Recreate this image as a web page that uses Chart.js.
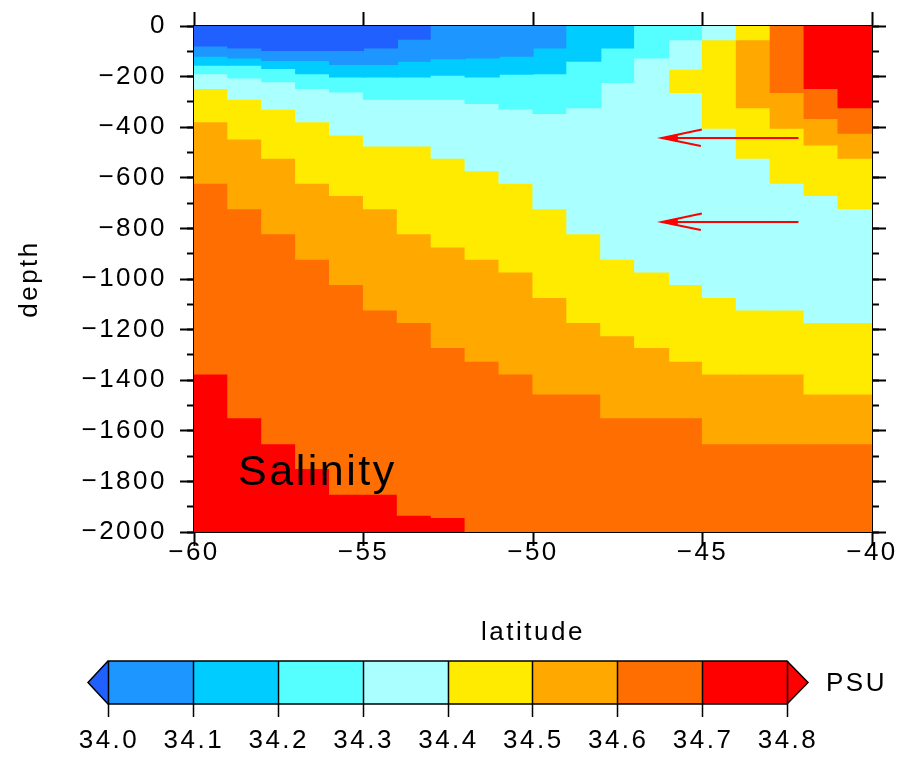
<!DOCTYPE html>
<html>
<head>
<meta charset="utf-8">
<script src="https://cdn.jsdelivr.net/npm/chart.js@4.4.1/dist/chart.umd.min.js"></script>
<style>
html,body{margin:0;padding:0;background:#fff;}
canvas{display:block;}
</style>
</head>
<body>
<canvas id="c" width="916" height="759"></canvas>
<script>
// ---------------- data ----------------
const latitude = [-59.5,-58.5,-57.5,-56.5,-55.5,-54.5,-53.5,-52.5,-51.5,-50.5,
                  -49.5,-48.5,-47.5,-46.5,-45.5,-44.5,-43.5,-42.5,-41.5,-40.5];
const contourLevels = [34.0,34.1,34.2,34.3,34.4,34.5,34.6,34.7,34.8];
const latTicks = [-60,-55,-50,-45,-40];
const depthTicks = [0,-200,-400,-600,-800,-1000,-1200,-1400,-1600,-1800,-2000];

// Salinity profiles, surface downward:
// [bottom of layer (m), salinity (PSU)]
const prof_59_5 = [[79,33.95],[119,34.05],[155,34.15],[188,34.25],[247,34.35],[378,34.45],[621,34.55],[1375,34.65],[2000,34.75]];
const prof_58_5 = [[87,33.95],[126,34.05],[155,34.15],[205,34.25],[289,34.35],[446,34.45],[722,34.55],[1548,34.65],[2000,34.75]];
const prof_57_5 = [[96,33.95],[136,34.05],[168,34.15],[220,34.25],[329,34.35],[522,34.45],[821,34.55],[1651,34.65],[2000,34.75]];
const prof_56_5 = [[96,33.95],[136,34.05],[188,34.15],[247,34.25],[378,34.35],[621,34.45],[922,34.55],[1749,34.65],[2000,34.75]];
const prof_55_5 = [[96,33.95],[152,34.05],[201,34.15],[260,34.25],[430,34.35],[670,34.45],[1021,34.55],[1850,34.65],[2000,34.75]];
const prof_54_5 = [[87,33.95],[152,34.05],[201,34.15],[289,34.25],[474,34.35],[722,34.45],[1122,34.55],[1850,34.65],[2000,34.75]];
const prof_53_5 = [[52,33.95],[139,34.05],[201,34.15],[289,34.25],[474,34.35],[821,34.45],[1172,34.55],[1933,34.65],[2000,34.75]];
const prof_52_5 = [[129,34.05],[194,34.15],[289,34.25],[522,34.35],[873,34.45],[1270,34.55],[1942,34.65],[2000,34.75]];
const prof_51_5 = [[126,34.05],[201,34.15],[306,34.25],[572,34.35],[922,34.45],[1325,34.55],[2000,34.65]];
const prof_50_5 = [[119,34.05],[190,34.15],[328,34.25],[621,34.35],[972,34.45],[1375,34.55],[2000,34.65]];
const prof_49_5 = [[87,34.05],[188,34.15],[345,34.25],[722,34.35],[1073,34.45],[1454,34.55],[2000,34.65]];
const prof_48_5 = [[139,34.15],[323,34.25],[821,34.35],[1172,34.45],[1454,34.55],[2000,34.65]];
const prof_47_5 = [[87,34.15],[223,34.25],[922,34.35],[1224,34.45],[1548,34.55],[2000,34.65]];
const prof_46_5 = [[126,34.25],[972,34.35],[1270,34.45],[1548,34.55],[2000,34.65]];
const prof_45_5 = [[54,34.25],[171,34.35],[262,34.45],[1021,34.35],[1325,34.45],[1548,34.55],[2000,34.65]];
const prof_44_5 = [[54,34.35],[404,34.45],[1073,34.35],[1375,34.45],[1651,34.55],[2000,34.65]];
const prof_43_5 = [[54,34.45],[323,34.55],[522,34.45],[1122,34.35],[1375,34.45],[1651,34.55],[2000,34.65]];
const prof_42_5 = [[262,34.65],[404,34.55],[621,34.45],[1122,34.35],[1375,34.45],[1651,34.55],[2000,34.65]];
const prof_41_5 = [[247,34.75],[365,34.65],[470,34.55],[670,34.45],[1172,34.35],[1454,34.45],[1651,34.55],[2000,34.65]];
const prof_40_5 = [[323,34.75],[424,34.65],[522,34.55],[722,34.45],[1172,34.35],[1454,34.45],[1651,34.55],[2000,34.65]];

// annotations
const arrowFromLat = [-42.17, -42.17];
const arrowToLat   = [-46.20, -46.20];
const arrowDepth   = [-441, -774];
const labelText = 'Salinity';
const labelLat = -58.7;
const labelDepth = -1815;
const unitText = 'PSU';

// ---------------- styling ----------------
const bandColors = ['#2060FF','#1E96FF','#00CCFF','#55FFFF','#AAFFFF',
                    '#FFEB00','#FFA800','#FF6E00','#FF0000','#FF0000'];
const FONT = '"Liberation Sans", Arial, Helvetica, sans-serif';
const LS = '2.5px';

function colorFor(s){
  let i = 0;
  while (i < contourLevels.length && s >= contourLevels[i] - 1e-9) i++;
  return bandColors[i];
}
const fmt = v => (v === 0 ? '0' : (v < 0 ? '\u2212' : '') + Math.abs(v));

const profiles = [prof_59_5,prof_58_5,prof_57_5,prof_56_5,prof_55_5,prof_54_5,prof_53_5,
  prof_52_5,prof_51_5,prof_50_5,prof_49_5,prof_48_5,prof_47_5,prof_46_5,prof_45_5,
  prof_44_5,prof_43_5,prof_42_5,prof_41_5,prof_40_5];

const maxLayers = Math.max(...profiles.map(p => p.length));
const datasets = [];
for (let k = 0; k < maxLayers; k++) {
  const data = [];
  profiles.forEach((p, i) => {
    if (k < p.length) {
      const top = k ? p[k-1][0] : 0;
      data.push({x: latitude[i], y: [-p[k][0], -top], s: p[k][1]});
    }
  });
  datasets.push({
    data,
    backgroundColor: c => (c.raw ? colorFor(c.raw.s) : '#000'),
    borderWidth: 0,
    grouped: false,
    barPercentage: 1,
    categoryPercentage: 1,
    inflateAmount: 0.6
  });
}

const spacingPlugin = {
  id: 'spacing',
  beforeUpdate(c){ c.ctx.letterSpacing = LS; },
  beforeLayout(c){ c.ctx.letterSpacing = LS; },
  beforeDraw(c){ c.ctx.letterSpacing = LS; }
};

function drawArrow(ctx, xStart, y, xTip){
  ctx.save();
  ctx.strokeStyle = '#FF0000';
  ctx.fillStyle = '#FF0000';
  ctx.lineWidth = 2;
  ctx.beginPath(); ctx.moveTo(xStart, y); ctx.lineTo(xTip, y); ctx.stroke();
  ctx.beginPath();
  ctx.moveTo(xTip + 40, y - 8.5); ctx.lineTo(xTip, y); ctx.lineTo(xTip + 39, y + 8);
  ctx.stroke();
  ctx.beginPath();
  ctx.moveTo(xTip - 1, y); ctx.lineTo(xTip + 16, y - 4); ctx.lineTo(xTip + 16, y + 4);
  ctx.closePath(); ctx.fill();
  ctx.restore();
}

const annotatePlugin = {
  id: 'annotate',
  afterDatasetsDraw(chart){
    const ctx = chart.ctx, xs = chart.scales.x, ys = chart.scales.y;
    ctx.save();
    ctx.letterSpacing = LS;
    ctx.font = '43px ' + FONT;
    ctx.fillStyle = '#000';
    ctx.textAlign = 'left';
    ctx.textBaseline = 'alphabetic';
    ctx.fillText(labelText, xs.getPixelForValue(labelLat), ys.getPixelForValue(labelDepth));
    ctx.restore();
    for (let i = 0; i < arrowDepth.length; i++) {
      drawArrow(ctx, xs.getPixelForValue(arrowFromLat[i]), Math.round(ys.getPixelForValue(arrowDepth[i])),
                xs.getPixelForValue(arrowToLat[i]));
    }
  },
  afterDraw(chart){
    // colour bar (legend)
    const ctx = chart.ctx;
    const x0 = 108, x1 = 787, yT = 661, yB = 704, tipL = 88, tipR = 808;
    const n = contourLevels.length - 1;
    const w = (x1 - x0) / n;
    const yM = (yT + yB) / 2;
    ctx.save();
    ctx.letterSpacing = LS;
    // triangles
    ctx.fillStyle = bandColors[0];
    ctx.beginPath(); ctx.moveTo(x0, yT); ctx.lineTo(tipL, yM); ctx.lineTo(x0, yB); ctx.closePath(); ctx.fill();
    ctx.fillStyle = bandColors[bandColors.length - 1];
    ctx.beginPath(); ctx.moveTo(x1, yT); ctx.lineTo(tipR, yM); ctx.lineTo(x1, yB); ctx.closePath(); ctx.fill();
    for (let i = 0; i < n; i++) {
      ctx.fillStyle = bandColors[i + 1];
      ctx.fillRect(x0 + i * w, yT, w + 0.5, yB - yT);
    }
    ctx.strokeStyle = '#000';
    ctx.lineWidth = 1.5;
    ctx.beginPath();
    ctx.moveTo(x0, yT); ctx.lineTo(tipL, yM); ctx.lineTo(x0, yB);
    ctx.lineTo(x1, yB); ctx.lineTo(tipR, yM); ctx.lineTo(x1, yT); ctx.closePath();
    ctx.stroke();
    ctx.beginPath();
    for (let i = 0; i <= n; i++) {
      const x = Math.round(x0 + i * w) + 0.5;
      ctx.moveTo(x, yT); ctx.lineTo(x, yB + 13);
    }
    ctx.stroke();
    ctx.fillStyle = '#000';
    ctx.font = '26px ' + FONT;
    ctx.textAlign = 'center';
    ctx.textBaseline = 'middle';
    contourLevels.forEach((v, i) => ctx.fillText(v.toFixed(1), x0 + i * w + 1, 741));
    ctx.textAlign = 'left';
    ctx.fillText(unitText, 826, yM + 1);
    ctx.restore();
  }
};

const tickGrid = len => ({display: true, drawOnChartArea: false, drawTicks: true, tickLength: len,
                          tickWidth: 2, tickColor: '#000', offset: false});
const setTicks = arr => s => { s.ticks = arr.map(v => ({value: v})); };

new Chart(document.getElementById('c'), {
  type: 'bar',
  data: {datasets},
  plugins: [spacingPlugin, annotatePlugin],
  options: {
    responsive: false,
    devicePixelRatio: 1,
    animation: false,
    events: [],
    layout: {padding: {left: 0, right: 0, top: 0, bottom: 759 - 532 - 116}},
    plugins: {legend: {display: false}, tooltip: {enabled: false}},
    scales: {
      x: {
        type: 'linear', position: 'bottom', min: -60, max: -40, offset: false,
        grid: tickGrid(14),
        border: {display: true, color: '#000', width: 2},
        afterBuildTicks: setTicks(latTicks),
        ticks: {autoSkip: false, maxRotation: 0, color: '#000', padding: -6,
                font: {family: FONT, size: 26, lineHeight: 1}, callback: fmt},
        title: {display: true, text: 'latitude', color: '#000',
                font: {family: FONT, size: 26, lineHeight: 1.2}, padding: {top: 0, bottom: 0}},
        afterFit: s => { s.height = 116; }
      },
      xTop: {
        type: 'linear', position: 'top', min: -60, max: -40, offset: false,
        grid: tickGrid(14),
        border: {display: true, color: '#000', width: 2},
        afterBuildTicks: setTicks(latTicks),
        ticks: {display: false},
        afterFit: s => { s.height = 24; }
      },
      y: {
        type: 'linear', position: 'left', min: -2000, max: 0, weight: 1,
        grid: tickGrid(14),
        border: {display: true, color: '#000', width: 2},
        afterBuildTicks: setTicks(depthTicks),
        ticks: {autoSkip: false, color: '#000', padding: 13,
                font: {family: FONT, size: 26, lineHeight: 1}, callback: fmt},
        title: {display: true, text: 'depth', color: '#000',
                font: {family: FONT, size: 26, lineHeight: 1.2}, padding: {top: 14, bottom: 0}},
        afterFit: s => { s.width = 194; }
      },
      yMinor: {
        type: 'linear', position: 'left', min: -2000, max: 0, weight: 0,
        grid: tickGrid(7),
        border: {display: false},
        ticks: {display: false, stepSize: 100, autoSkip: false},
        afterFit: s => { s.width = 0; }
      },
      yRight: {
        type: 'linear', position: 'right', min: -2000, max: 0, weight: 1,
        grid: tickGrid(14),
        border: {display: true, color: '#000', width: 2},
        afterBuildTicks: setTicks(depthTicks),
        ticks: {display: false},
        afterFit: s => { s.width = 44; }
      },
      yRightMinor: {
        type: 'linear', position: 'right', min: -2000, max: 0, weight: 0,
        grid: tickGrid(7),
        border: {display: false},
        ticks: {display: false, stepSize: 100, autoSkip: false},
        afterFit: s => { s.width = 0; }
      }
    }
  }
});
</script>
</body>
</html>
